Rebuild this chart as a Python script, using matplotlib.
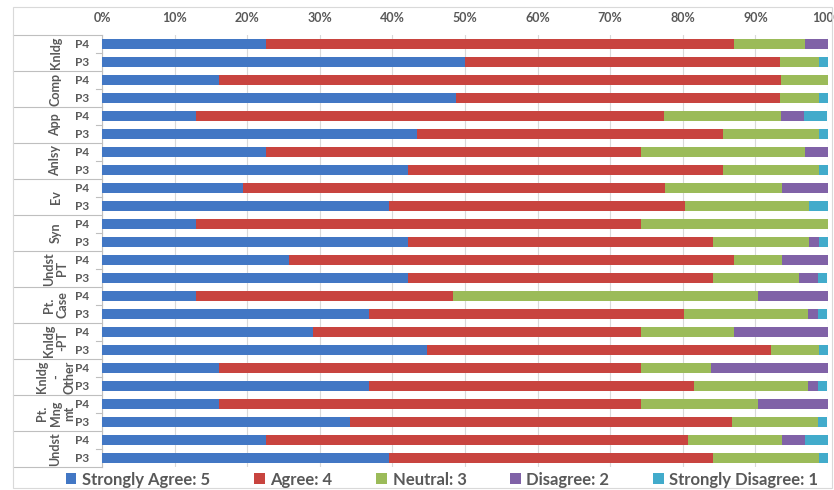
import matplotlib.pyplot as plt
from matplotlib.patches import Rectangle
import matplotlib.transforms as mtransforms

# Groups top to bottom, each has a P4 and a P3 bar
groups = ["Knldg", "Comp", "App", "Anlsy", "Ev", "Syn", "Undst\nPT", "Pt.\nCase",
          "Knldg\n-PT", "Knldg\n-\nOther", "Pt.\nMng\nmt", "Undst"]
periods = ["P4", "P3"]

# percent of answers, rows in order: Knldg P4, Knldg P3, Comp P4, ...
strongly_agree = [22.6, 50.0, 16.1, 48.7, 12.9, 43.4, 22.6, 42.1, 19.4, 39.5, 12.9, 42.1,
                  25.8, 42.1, 12.9, 36.8, 29.0, 44.7, 16.1, 36.8, 16.1, 34.2, 22.6, 39.5]
agree = [64.5, 43.4, 77.4, 44.7, 64.5, 42.1, 51.6, 43.4, 58.1, 40.8, 61.3, 42.1,
         61.3, 42.1, 35.5, 43.4, 45.2, 47.4, 58.1, 44.7, 58.1, 52.6, 58.1, 44.7]
neutral = [9.7, 5.3, 6.5, 5.3, 16.1, 13.2, 22.6, 13.2, 16.1, 17.1, 25.8, 13.2,
           6.5, 11.8, 41.9, 17.1, 12.9, 6.6, 9.7, 15.8, 16.1, 11.8, 12.9, 14.5]
disagree = [3.2, 0, 0, 0, 3.2, 0, 3.2, 0, 6.5, 0, 0, 1.3,
            6.5, 2.6, 9.7, 1.3, 12.9, 0, 16.1, 1.3, 9.7, 0, 3.2, 0]
strongly_disagree = [0, 1.3, 0, 1.3, 3.2, 1.3, 0, 1.3, 0, 2.6, 0, 1.3,
                     0, 1.3, 0, 1.3, 0, 1.3, 0, 1.3, 0, 1.3, 3.2, 1.3]

series = [("Strongly Agree: 5", strongly_agree, "#4277C4"),
          ("Agree: 4", agree, "#C8443F"),
          ("Neutral: 3", neutral, "#9BBB59"),
          ("Disagree: 2", disagree, "#8062A7"),
          ("Strongly Disagree: 1", strongly_disagree, "#42ABCB")]

plt.rcParams['font.family'] = ['Lato', 'DejaVu Sans']
txt = "#595959"

fig = plt.figure(figsize=(8.34, 4.9), dpi=100)
ax = fig.add_axes([102 / 834, 1 - 467 / 490, 726 / 834, 432 / 490])

n = len(strongly_agree)
ypos = list(range(n))
left = [0.0] * n
for name, vals, col in series:
    ax.barh(ypos, vals, left=left, height=0.56, color=col, label=name, zorder=3)
    left = [l + v for l, v in zip(left, vals)]

ax.set_xlim(0, 100)
ax.set_ylim(n - 0.5, -0.5)
ax.xaxis.tick_top()
ax.set_xticks(range(0, 101, 10))
ax.set_xticklabels([f"{t}%" for t in range(0, 101, 10)], fontsize=9, fontweight="bold", color=txt)
ax.tick_params(axis="x", length=0, pad=8)
ax.grid(axis="x", color="#d9d9d9", linewidth=0.8, zorder=0)

ax.set_yticks(ypos)
ax.set_yticklabels(periods * len(groups), fontsize=8.5, fontweight="bold", color=txt)
ax.tick_params(axis="y", length=0, pad=9)

for s in ["top", "right", "bottom"]:
    ax.spines[s].set_visible(False)
ax.spines["left"].set_color("#bfbfbf")

# category axis lines: short ticks and long group separators
trans = mtransforms.blended_transform_factory(ax.transAxes, ax.transData)
for b in range(n + 1):
    y = b - 0.5
    if b % 2 == 0:
        ax.plot([-0.1226, 0], [y, y], color="#bfbfbf", lw=0.8, transform=trans, clip_on=False)
    else:
        ax.plot([-0.008, 0], [y, y], color="#bfbfbf", lw=0.8, transform=trans, clip_on=False)

for i, g in enumerate(groups):
    ax.text(-0.064, 2 * i + 0.5, g, transform=trans, rotation=90, ha="center", va="center",
            fontsize=9, fontweight="bold", color=txt, linespacing=1.15)

# chart border
fig.patches.append(Rectangle((13 / 834, 2 / 490), 819 / 834, 481 / 490, transform=fig.transFigure,
                             fill=False, edgecolor="#d9d9d9", linewidth=0.8))

leg = fig.legend(loc="lower center", bbox_to_anchor=(0.53, -0.026), ncol=5, frameon=False,
                 fontsize=12, handlelength=0.65, handleheight=0.65, handletextpad=0.35,
                 columnspacing=2.6)
for t in leg.get_texts():
    t.set_color(txt)
    t.set_fontweight("bold")

fig.savefig("out.png", dpi=100)
